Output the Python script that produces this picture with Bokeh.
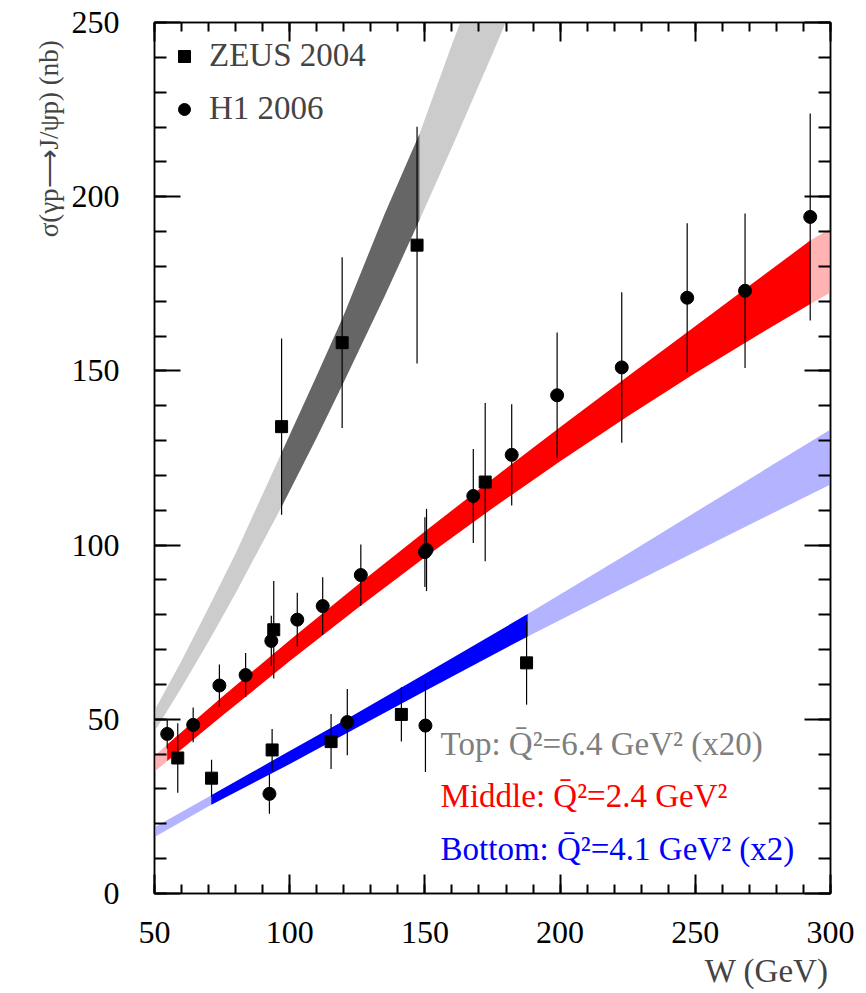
import numpy as np
from bokeh.plotting import figure
from bokeh.models import (Range1d, LinearAxis, SingleIntervalTicker, Title, Label,
                          Legend, LegendItem, CustomJSTickFormatter, ColumnDataSource)
from bokeh.embed import file_html
from bokeh.resources import INLINE

FONT = "Liberation Serif"

# ---------------- data ----------------
zeus_W = [58.6, 71.1, 93.5, 94.1, 97.0, 115.3, 119.4, 141.3, 147.1, 172.3, 187.6]
zeus_sig = [38.9, 33.1, 41.2, 75.7, 134.0, 43.6, 158.1, 51.4, 186.1, 118.1, 66.2]
zeus_err = [10.0, 5.3, 6.0, 14.0, 25.3, 7.9, 24.5, 7.8, 34.0, 22.7, 12.0]

h1_W = [54.7, 64.3, 74.0, 83.7, 92.5, 93.2, 102.8, 112.2, 121.3, 126.3, 150.0, 150.6,
        150.2, 167.9, 182.1, 198.9, 222.8, 247.0, 268.4, 292.5]
h1_sig = [45.8, 48.4, 59.7, 62.7, 28.6, 72.5, 78.6, 82.5, 49.2, 91.4, 98.0, 98.6,
          48.2, 114.1, 125.9, 143.0, 151.0, 171.0, 173.0, 194.2]
h1_err = [4.2, 5.0, 6.0, 6.3, 5.7, 7.2, 7.7, 8.3, 9.5, 8.8, 10.0, 11.8,
          13.3, 13.5, 14.5, 18.0, 21.6, 21.4, 22.2, 29.7]

# model bands (upper / lower edges), dark part = range covered by data
gray_W = [50, 60, 70, 80, 97, 110, 120, 135, 148, 160, 175, 190]
gray_hi = [52.5, 66.8, 82.0, 97.6, 126.5, 148.6, 166.0, 194.8, 218.0, 243.7, 274.4, 306.0]
gray_lo = [46.5, 59.1, 72.3, 86.2, 111.0, 130.9, 146.8, 171.3, 193.3, 214.2, 241.0, 268.6]
gray_dark = slice(4, 9)

red_W = [50, 54.7, 75, 100, 125, 150, 175, 200, 225, 250, 275, 292.5, 300]
red_hi = [39.5, 42.8, 56.4, 72.7, 88.5, 103.9, 119.0, 133.8, 148.4, 162.8, 177.3, 187.4, 190.9]
red_lo = [35.0, 38.0, 51.0, 66.7, 81.9, 96.5, 110.6, 124.1, 137.0, 149.4, 161.2, 169.2, 172.5]
red_dark = slice(1, 12)

blue_W = [50, 71, 100, 121, 150, 188, 225, 260, 300]
blue_hi = [19.0, 28.2, 40.9, 50.0, 63.0, 80.2, 97.5, 114.2, 133.2]
blue_lo = [16.2, 25.5, 37.2, 46.0, 58.1, 73.8, 88.3, 102.0, 117.4]
blue_dark = slice(1, 6)

x_ticks_interval = 50
y_ticks_interval = 50

ann_texts = ["Top: Q\u0304\u00b2=6.4 GeV\u00b2 (x20)",
             "Middle: Q\u0304\u00b2=2.4 GeV\u00b2",
             "Bottom: Q\u0304\u00b2=4.1 GeV\u00b2 (x2)"]
ann_colors = ["#7f7f7f", "#ff0000", "#0000ff"]
ann_y = [43.0, 28.1, 12.9]
ann_x = 155.8

y_title = "\u03c3(\u03b3p\u27f6J/\u03c8p)  (nb)"
x_title = "W (GeV)"

# ---------------- figure ----------------
p = figure(width=866, height=993, output_backend="svg", toolbar_location=None,
           x_range=Range1d(50, 300), y_range=Range1d(0, 250),
           x_axis_location=None, y_axis_location=None,
           min_border_left=154, min_border_right=36, min_border_top=22,
           min_border_bottom=98)
p.xgrid.visible = False
p.ygrid.visible = False
p.outline_line_color = "black"
p.outline_line_width = 1.5
p.background_fill_color = "white"
p.border_fill_color = "white"


def mk_axis(interval, tin, tmin, labels, standoff=0):
    ax = LinearAxis(ticker=SingleIntervalTicker(interval=interval, num_minor_ticks=5))
    ax.major_tick_in = tin
    ax.major_tick_out = 0
    ax.minor_tick_in = tmin
    ax.minor_tick_out = 0
    ax.axis_line_width = 1.5
    ax.major_tick_line_width = 2
    ax.minor_tick_line_width = 2
    ax.major_label_text_font = FONT
    ax.major_label_text_font_size = "32px"
    ax.major_label_text_color = "black"
    ax.major_label_standoff = standoff
    if not labels:
        ax.formatter = CustomJSTickFormatter(code="return ''")
        ax.major_label_text_font_size = "0px"
    return ax


p.add_layout(mk_axis(x_ticks_interval, 19, 9, True, 28), "below")
p.add_layout(mk_axis(x_ticks_interval, 19, 9, False), "above")
p.add_layout(mk_axis(y_ticks_interval, 26, 12, True, 35), "left")
p.add_layout(mk_axis(y_ticks_interval, 26, 12, False), "right")

# bands
p.varea(x=gray_W, y1=gray_lo, y2=gray_hi, fill_color="#cccccc")
p.varea(x=gray_W[gray_dark], y1=gray_lo[gray_dark], y2=gray_hi[gray_dark], fill_color="#666666")
p.varea(x=red_W, y1=red_lo, y2=red_hi, fill_color="#ffb3b3")
p.varea(x=red_W[red_dark], y1=red_lo[red_dark], y2=red_hi[red_dark], fill_color="#ff0000")
p.varea(x=blue_W, y1=blue_lo, y2=blue_hi, fill_color="#b3b3ff")
p.varea(x=blue_W[blue_dark], y1=blue_lo[blue_dark], y2=blue_hi[blue_dark], fill_color="#0000ff")

# data points with error bars
zs = ColumnDataSource(dict(W=zeus_W, s=zeus_sig,
                           lo=np.array(zeus_sig) - np.array(zeus_err),
                           hi=np.array(zeus_sig) + np.array(zeus_err)))
hs = ColumnDataSource(dict(W=h1_W, s=h1_sig,
                           lo=np.array(h1_sig) - np.array(h1_err),
                           hi=np.array(h1_sig) + np.array(h1_err)))
p.segment(x0="W", y0="lo", x1="W", y1="hi", source=zs, line_color="black", line_width=1.2)
p.segment(x0="W", y0="lo", x1="W", y1="hi", source=hs, line_color="black", line_width=1.2)
zr = p.scatter(x="W", y="s", source=zs, marker="square", size=12,
               fill_color="black", line_color="black")
hr = p.scatter(x="W", y="s", source=hs, marker="circle", size=13,
               fill_color="black", line_color="black")

legend = Legend(items=[LegendItem(label="ZEUS 2004", renderers=[zr]),
                       LegendItem(label="H1 2006", renderers=[hr])],
                location="top_left", border_line_color=None, background_fill_alpha=0,
                label_text_font=FONT, label_text_font_size="33px",
                glyph_width=30, glyph_height=30, label_standoff=10,
                spacing=16, padding=14, margin=15)
p.add_layout(legend)

for t, c, yy in zip(ann_texts, ann_colors, ann_y):
    p.add_layout(Label(x=ann_x, y=yy, text=t, text_color=c, text_font=FONT,
                       text_font_size="33px", text_baseline="middle"))

p.add_layout(Title(text=y_title, align="right", text_font=FONT, text_font_size="27px",
                   text_font_style="normal", offset=11), "left")
p.add_layout(Title(text=x_title, align="right", text_font=FONT,
                   text_font_size="33px", text_font_style="normal", offset=2), "below")

open("out.html", "w").write(file_html(p, INLINE))
